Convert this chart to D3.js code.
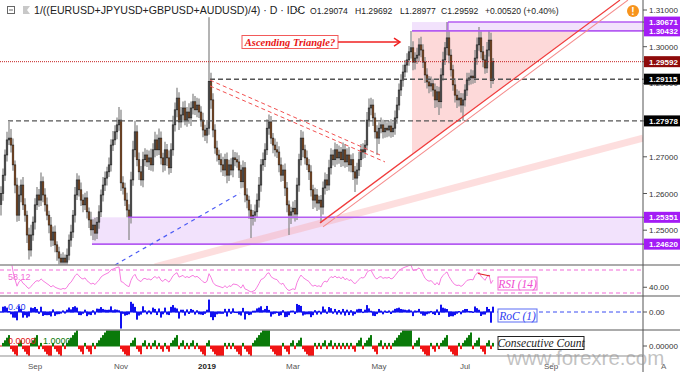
<!DOCTYPE html>
<html lang="en">
<head>
<meta charset="UTF-8">
<title>1/((EURUSD+JPYUSD+GBPUSD+AUDUSD)/4) daily</title>
<script src="https://cdn.jsdelivr.net/npm/d3@7"></script>
<style>
    body { margin: 0; background: #fff; font-family: "Liberation Sans", Arial, sans-serif; }
    svg { display: block; }
</style>
</head>
<body>
<div id="chart"></div>
<script>
// daily closes, Aug 9 2018 -> Jul 19 2019
const closes = [
    1.2600,1.2650,1.2705,1.2746,1.2751,1.2732,1.2678,1.2623,1.2541,1.2596,
    1.2623,1.2569,1.2541,1.2487,1.2446,1.2487,1.2522,1.2569,1.2596,1.2582,
    1.2632,1.2596,1.2569,1.2541,1.2514,1.2473,1.2495,1.2460,1.2441,1.2424,
    1.2413,1.2424,1.2413,1.2432,1.2473,1.2495,1.2541,1.2596,1.2637,1.2610,
    1.2582,1.2569,1.2588,1.2550,1.2528,1.2501,1.2514,1.2492,1.2522,1.2550,
    1.2596,1.2623,1.2642,1.2659,1.2678,1.2732,1.2746,1.2768,1.2787,1.2800,
    1.2629,1.2615,1.2582,1.2555,1.2536,1.2637,1.2719,1.2768,1.2692,1.2659,
    1.2637,1.2692,1.2705,1.2686,1.2697,1.2678,1.2719,1.2746,1.2719,1.2751,
    1.2697,1.2678,1.2719,1.2697,1.2670,1.2719,1.2787,1.2828,1.2860,1.2795,
    1.2814,1.2833,1.2800,1.2822,1.2806,1.2833,1.2850,1.2828,1.2841,1.2822,
    1.2800,1.2773,1.2759,1.2778,1.2905,1.2855,1.2773,1.2724,1.2705,1.2692,
    1.2678,1.2664,1.2692,1.2650,1.2678,1.2664,1.2697,1.2692,1.2686,1.2664,
    1.2632,1.2670,1.2596,1.2582,1.2555,1.2533,1.2541,1.2550,1.2582,1.2623,
    1.2678,1.2692,1.2719,1.2778,1.2795,1.2751,1.2732,1.2719,1.2713,1.2678,
    1.2650,1.2664,1.2615,1.2569,1.2541,1.2550,1.2560,1.2544,1.2623,1.2692,
    1.2751,1.2719,1.2697,1.2678,1.2659,1.2610,1.2582,1.2596,1.2574,1.2582,
    1.2563,1.2615,1.2637,1.2623,1.2670,1.2705,1.2692,1.2719,1.2697,1.2713,
    1.2692,1.2719,1.2686,1.2705,1.2678,1.2692,1.2659,1.2642,1.2664,1.2692,
    1.2719,1.2713,1.2732,1.2800,1.2833,1.2841,1.2806,1.2768,1.2751,1.2778,
    1.2787,1.2768,1.2778,1.2773,1.2784,1.2768,1.2778,1.2806,1.2841,1.2882,
    1.2909,1.2931,1.2950,1.2964,1.2986,1.2997,1.2958,1.2969,1.2977,1.3005,
    1.2991,1.2958,1.2923,1.2904,1.2893,1.2899,1.2882,1.2855,1.2877,1.2850,
    1.2923,1.2964,1.2997,1.3024,1.2977,1.2937,1.2896,1.2868,1.2855,1.2860,
    1.2841,1.2855,1.2882,1.2909,1.2915,1.2920,1.2915,1.2969,1.3005,1.3024,
    1.2986,1.2964,1.2942,1.2991,1.3018,1.29074,1.29592
];
const firstOpen = 1.2570;
// wick length above / below the body, in pips
const hiWick = [
    20,18,15,22,44,25,18,12,20,25, 15,22,18,12,20,28,15,18,22,16,
    25,14,18,20,12,22,15,18,10,14, 12,16,10,18,15,20,14,22,18,12,
    20,16,14,18,12,22,16,20,14,18, 15,22,18,14,20,16,24,18,20,36,
    28,18,14,20,16,22,25,30,18,20, 16,22,18,14,20,25,18,22,15,26,
    18,14,22,16,20,18,25,20,28,16, 22,18,20,14,24,18,22,16,20,18,
    16,20,14,22,175,24,18,16,20,14, 18,22,16,20,14,18,22,16,20,18,
    14,20,16,18,12,16,14,20,18,22, 16,20,18,24,20,16,14,18,22,16,
    20,14,18,16,12,14,18,22,20,16, 22,18,14,20,16,18,14,20,16,12,
    14,18,20,16,22,18,14,20,16,18, 14,20,16,18,22,14,18,16,20,22,
    16,18,14,22,26,20,16,14,18,16, 20,14,18,16,14,18,16,20,22,18,
    16,20,14,18,16,46,18,16,20,18, 22,16,14,18,16,20,14,18,16,14,
    18,22,16,43,20,16,14,18,16,20, 14,18,16,20,14,18,16,22,20,30,
    18,16,14,22,25,20,10
];
const loWick = [
    30,20,16,18,14,20,16,22,18,16, 20,14,18,22,26,18,16,20,14,18,
    16,20,18,14,22,18,16,20,24,18, 16,20,18,22,14,18,16,20,14,18,
    16,20,14,18,22,16,28,20,16,18, 14,18,16,20,14,18,16,14,20,16,
    22,18,16,20,63,18,16,20,18,22, 16,20,18,14,22,16,18,20,16,14,
    18,20,16,22,18,14,16,18,20,22, 16,20,14,18,16,22,18,14,20,16,
    18,20,16,22,18,24,20,16,18,14, 20,16,18,22,16,14,20,18,16,22,
    18,16,20,22,24,54,20,18,16,20, 18,16,20,14,18,16,22,18,16,20,
    18,16,22,20,54,24,18,20,16,18, 16,20,18,14,22,18,24,20,22,18,
    43,20,18,16,14,18,16,20,18,16, 20,18,16,14,18,20,22,38,18,16,
    20,18,16,14,18,20,22,18,46,16, 14,18,16,20,18,16,14,18,16,14,
    16,18,14,20,16,18,22,20,16,18, 20,16,22,18,20,16,18,22,20,36,
    18,16,14,20,22,18,16,20,22,18, 20,43,18,16,14,18,16,14,18,16,
    18,20,16,14,18,20,9
];

const monthLabels = ["Sep", "Nov", "2019", "Mar", "May", "Jul", "Sep"];
const monthIdx = [17, 60, 103, 146, 189, 232, 275];
const priceTicks = [1.31, 1.30, 1.29, 1.27, 1.26, 1.25];
const levelPrices = [1.30671, 1.30432, 1.29592, 1.29115, 1.27978, 1.25351, 1.24620];
const levelColors = ["#a31cf5", "#a31cf5", "#8e0a0a", "#000", "#000", "#a31cf5", "#a31cf5"];

// drawings, as [index, price] points
const triTop = [1.30432, 1.30671];
const zoneLow = [1.24620, 1.25351];
const riseLine = [[159.5, 1.2520], [309.5, 1.3127]];
const riseLineLight = [[161, 1.2509], [313.5, 1.3127]];
const triangle = [[205.5, 1.30432], [288.5, 1.30432], [205.5, 1.2708]];
const fallLines = [[[104.5, 1.2909], [189.5, 1.2705]], [[104.5, 1.2893], [192, 1.2686]]];
const blueLine = [[57, 1.2405], [119.5, 1.2601]];
const pinkBand = [[77, 1.2400], [321, 1.2751]];

const W = 680, H = 372, axisX = 643;
const mainTop = 0, mainBot = 265, rsiBot = 296, rocBot = 330, cntBot = 356;

const svg = d3.select("#chart").append("svg").attr("width", W).attr("height", H);

const x = d3.scaleLinear().domain([0, 1]).range([1, 3]);
const y = d3.scaleLinear().domain([1.24, 1.31]).range([266.9, 10]);
const yR = d3.scaleLinear().domain([30, 70]).range([293, 270]);
const yC = d3.scaleLinear().domain([-1, 1]).range([324, 300]);
const yN = d3.scaleLinear().domain([0, 1]).range([346, 343.4]);

const defs = svg.append("defs");
[["cMain", mainTop, mainBot], ["cRsi", mainBot, rsiBot], ["cRoc", rsiBot, rocBot], ["cCnt", rocBot, cntBot]]
    .forEach(([id, t, b]) => defs.append("clipPath").attr("id", id)
        .append("rect").attr("x", 0).attr("y", t).attr("width", axisX).attr("height", b - t));

const candles = closes.map((c, i) => {
    const o = i === 0 ? firstOpen : closes[i - 1];
    return { i, o, c, h: Math.max(o, c) + hiWick[i] / 1e4, l: Math.min(o, c) - loWick[i] / 1e4 };
});
const lastI = closes.length - 1;
const line = d3.line().x(d => x(d[0])).y(d => y(d[1]));

// ---------- main pane ----------
const main = svg.append("g").attr("clip-path", "url(#cMain)");

main.append("rect").attr("x", x(45.5)).attr("y", y(zoneLow[1]))
    .attr("width", axisX - x(45.5)).attr("height", y(zoneLow[0]) - y(zoneLow[1]))
    .attr("fill", "#f2e2fc");
main.append("rect").attr("x", x(205.5)).attr("y", y(triTop[1]))
    .attr("width", axisX - x(205.5)).attr("height", y(triTop[0]) - y(triTop[1]))
    .attr("fill", "#f2e2fc");
main.append("path").attr("d", line(triangle) + "Z").attr("fill", "#fdd9d9");
main.append("path").attr("d", line(pinkBand)).attr("stroke", "#f9a0a0")
    .attr("stroke-opacity", 0.35).attr("stroke-width", 7).attr("fill", "none");

// candles
const cg = main.append("g");
cg.selectAll("line").data(candles).join("line")
    .attr("x1", d => x(d.i)).attr("x2", d => x(d.i))
    .attr("y1", d => y(d.h)).attr("y2", d => y(d.l))
    .attr("stroke", "#8c8c8c").attr("stroke-width", 1.3);
cg.selectAll("rect").data(candles).join("rect")
    .attr("x", d => x(d.i) - 0.8).attr("width", 1.6)
    .attr("y", d => y(Math.max(d.o, d.c)))
    .attr("height", d => Math.max(1, Math.abs(y(d.o) - y(d.c))))
    .attr("fill", d => d.c >= d.o ? "#6a6a6a" : "#b5550e")
    .attr("stroke", "#1c1c1c").attr("stroke-width", 0.6);

// levels
main.append("line").attr("x1", x(45.5)).attr("x2", axisX).attr("y1", y(zoneLow[0])).attr("y2", y(zoneLow[0]))
    .attr("stroke", "#b45cf2").attr("stroke-width", 1.6);
main.append("line").attr("x1", x(63.5)).attr("x2", axisX).attr("y1", y(zoneLow[1])).attr("y2", y(zoneLow[1]))
    .attr("stroke", "#b45cf2").attr("stroke-width", 1.6);
main.append("line").attr("x1", x(205.5)).attr("x2", axisX).attr("y1", y(triTop[0])).attr("y2", y(triTop[0]))
    .attr("stroke", "#b45cf2").attr("stroke-width", 1.6);
main.append("line").attr("x1", x(223.5)).attr("x2", axisX).attr("y1", y(triTop[1])).attr("y2", y(triTop[1]))
    .attr("stroke", "#b45cf2").attr("stroke-width", 1.6);
main.append("line").attr("x1", x(223.5)).attr("x2", x(223.5)).attr("y1", y(triTop[1])).attr("y2", y(triTop[0]))
    .attr("stroke", "#b45cf2").attr("stroke-width", 1.2);

main.append("line").attr("x1", x(104.5)).attr("x2", axisX).attr("y1", y(1.29115)).attr("y2", y(1.29115))
    .attr("stroke", "#555").attr("stroke-width", 1.4).attr("stroke-dasharray", "5,3");
main.append("line").attr("x1", x(3.5)).attr("x2", axisX).attr("y1", y(1.27978)).attr("y2", y(1.27978))
    .attr("stroke", "#555").attr("stroke-width", 1.4).attr("stroke-dasharray", "5,3");
main.append("line").attr("x1", 0).attr("x2", axisX).attr("y1", y(1.29592)).attr("y2", y(1.29592))
    .attr("stroke", "#c62020").attr("stroke-width", 1).attr("stroke-dasharray", "1,1");

fallLines.forEach(l => main.append("path").attr("d", line(l)).attr("fill", "none")
    .attr("stroke", "#f25050").attr("stroke-width", 1).attr("stroke-dasharray", "4,3"));
main.append("path").attr("d", line(blueLine)).attr("fill", "none")
    .attr("stroke", "#4d5cf5").attr("stroke-width", 1.2).attr("stroke-dasharray", "4,4");
main.append("path").attr("d", line(riseLine)).attr("fill", "none")
    .attr("stroke", "#f03c3c").attr("stroke-width", 1.3);
main.append("path").attr("d", line(riseLineLight)).attr("fill", "none")
    .attr("stroke", "#f58c8c").attr("stroke-width", 1.1);

// annotation
const ax0 = x(120.5), ax1 = x(168.5), ay = y(1.30128);
svg.append("rect").attr("x", ax0).attr("y", ay - 6.5).attr("width", ax1 - ax0).attr("height", 13)
    .attr("fill", "#fff").attr("stroke", "#f25a5a").attr("stroke-width", 1);
svg.append("text").attr("x", (ax0 + ax1) / 2).attr("y", ay + 3.8).attr("text-anchor", "middle")
    .attr("font-family", "'Liberation Serif', 'DejaVu Serif', serif").attr("font-style", "italic")
    .attr("font-weight", "bold").attr("font-size", 10.5).attr("fill", "#e81414").text("Ascending Triangle?");
const arrowEnd = x(199.5);
svg.append("line").attr("x1", ax1).attr("x2", arrowEnd).attr("y1", ay).attr("y2", ay)
    .attr("stroke", "#f02020").attr("stroke-width", 1.5);
svg.append("path").attr("d", `M${arrowEnd - 6},${ay - 4}L${arrowEnd},${ay}L${arrowEnd - 6},${ay + 4}`)
    .attr("fill", "none").attr("stroke", "#f02020").attr("stroke-width", 1.5);

// ---------- indicators ----------
const rsi = [null];
let ag = 0, al = 0;
for (let i = 1; i < closes.length; i++) {
    const ch = closes[i] - closes[i - 1];
    const n = Math.min(i, 14);
    ag += (Math.max(ch, 0) - ag) / n;
    al += (Math.max(-ch, 0) - al) / n;
    rsi.push(al === 0 ? 100 : 100 - 100 / (1 + ag / al));
}
const roc = closes.map((c, i) => i === 0 ? 0 : (c - closes[i - 1]) / closes[i - 1] * 100);
const cnt = [0];
for (let i = 1; i < closes.length; i++) {
    const ch = closes[i] - closes[i - 1], p = cnt[i - 1];
    cnt.push(ch > 0 ? (p > 0 ? p + 1 : 1) : ch < 0 ? (p < 0 ? p - 1 : -1) : 0);
}

// RSI pane
const rp = svg.append("g").attr("clip-path", "url(#cRsi)");
[70, 30].forEach(v => rp.append("line").attr("x1", 0).attr("x2", axisX).attr("y1", yR(v)).attr("y2", yR(v))
    .attr("stroke", "#f26ad8").attr("stroke-width", 1.2).attr("stroke-dasharray", "4,3"));
rp.append("path").datum(rsi.map((v, i) => [i, v]).filter(d => d[0] >= 2))
    .attr("d", d3.line().x(d => x(d[0])).y(d => yR(d[1])))
    .attr("fill", "none").attr("stroke", "#f77ee0").attr("stroke-width", 1);
rp.append("line").attr("x1", x(238.5)).attr("x2", x(244.5)).attr("y1", 273.5).attr("y2", 276)
    .attr("stroke", "#e02020").attr("stroke-width", 1.2);
rp.append("text").attr("x", 8).attr("y", 280).attr("font-size", 9).attr("fill", "#f26ad8").text("58.12");

// RoC pane
const op = svg.append("g").attr("clip-path", "url(#cRoc)");
op.append("line").attr("x1", 0).attr("x2", axisX).attr("y1", yC(0)).attr("y2", yC(0))
    .attr("stroke", "#3a4cf2").attr("stroke-width", 1).attr("stroke-dasharray", "4,3");
op.selectAll("rect").data(roc).join("rect")
    .attr("x", (d, i) => x(i) - 1).attr("width", 2)
    .attr("y", d => Math.min(yC(d), yC(0)) - 0.5)
    .attr("height", d => Math.abs(yC(d) - yC(0)) + 1)
    .attr("fill", "#1010f0");
op.append("text").attr("x", 8).attr("y", 310).attr("font-size", 9).attr("fill", "#2a3cf0").text("0.40");

// Consecutive count pane
const np = svg.append("g").attr("clip-path", "url(#cCnt)");
np.selectAll("rect").data(cnt).join("rect")
    .attr("x", (d, i) => x(i) - 1).attr("width", 2)
    .attr("y", d => Math.min(yN(d), yN(0)) - 0.5)
    .attr("height", d => Math.abs(yN(d) - yN(0)) + 1)
    .attr("fill", d => d > 0 ? "#0a7a0a" : "#f01414");
np.append("text").attr("x", 8).attr("y", 344).attr("font-size", 9).attr("fill", "#e01414").text("0.0000");
np.append("text").attr("x", 43).attr("y", 344).attr("font-size", 9).attr("fill", "#0a7a0a").text("1.0000");

// indicator name boxes
const bx = x(lastI) + 5;
function nameBox(label, cy, w, stroke, fill) {
    svg.append("rect").attr("x", bx).attr("y", cy - 6.5).attr("width", w).attr("height", 13)
        .attr("fill", "#fff").attr("stroke", stroke).attr("stroke-width", 1);
    svg.append("text").attr("x", bx + w / 2).attr("y", cy + 4).attr("text-anchor", "middle")
        .attr("font-family", "'Liberation Serif', 'DejaVu Serif', serif").attr("font-style", "italic")
        .attr("font-size", 11.5).attr("fill", fill).text(label);
}
nameBox("RSI (14)", 283.5, 39, "#f26ad8", "#f04cd0");
nameBox("RoC (1)", 315.5, 39, "#5a6cf5", "#3040f0");
nameBox("Consecutive Count", 343, 86, "#222", "#222");

// ---------- frame ----------
[mainBot, rsiBot, rocBot].forEach(v => svg.append("line").attr("x1", 0).attr("x2", W)
    .attr("y1", v).attr("y2", v).attr("stroke", "#8f8f8f").attr("stroke-width", 1.6));
svg.append("line").attr("x1", 0).attr("x2", axisX).attr("y1", cntBot).attr("y2", cntBot)
    .attr("stroke", "#8f8f8f").attr("stroke-width", 1.2);
svg.append("line").attr("x1", axisX).attr("x2", axisX).attr("y1", 0).attr("y2", H)
    .attr("stroke", "#555").attr("stroke-width", 1);

// right axis
function axisLabel(yy, txt, bg) {
    svg.append("line").attr("x1", axisX).attr("x2", axisX + 4).attr("y1", yy).attr("y2", yy)
        .attr("stroke", "#555").attr("stroke-width", 1);
    if (bg) svg.append("rect").attr("x", axisX + 1).attr("y", yy - 5.5).attr("width", W - axisX).attr("height", 11).attr("fill", bg);
    svg.append("text").attr("x", axisX + 6).attr("y", yy + 3).attr("font-size", 8)
        .attr("font-weight", bg ? "bold" : "normal").attr("fill", bg ? "#fff" : "#333").text(txt);
}
priceTicks.forEach(p => axisLabel(y(p), p.toFixed(5)));
levelPrices.forEach((p, k) => axisLabel(y(p), p.toFixed(5), levelColors[k]));
axisLabel(yR(40), "40.00");
axisLabel(yC(0), "0.00");
axisLabel(yN(0), "0.00000");

// bottom axis
svg.append("g").selectAll("text").data(monthLabels).join("text")
    .attr("x", (d, k) => x(monthIdx[k])).attr("y", 369).attr("text-anchor", "middle")
    .attr("font-size", 8).attr("font-weight", d => d === "2019" ? "bold" : "normal")
    .attr("fill", d => d === "2019" ? "#222" : "#555").text(d => d);
svg.append("text").attr("x", 661).attr("y", 369).attr("font-size", 8).attr("fill", "#666").text("A");

svg.append("text").attr("x", 507).attr("y", 365).attr("font-size", 20.5)
    .attr("fill", "#999").attr("fill-opacity", 0.6).text("www.forexre.com");

// ---------- header ----------
svg.append("rect").attr("x", 7.5).attr("y", 6.5).attr("width", 7).attr("height", 7)
    .attr("fill", "none").attr("stroke", "#666");
svg.append("line").attr("x1", 9).attr("x2", 13).attr("y1", 10).attr("y2", 10).attr("stroke", "#666");
svg.append("path").attr("d", "M23,6h7l-3,4l3,4h-7z").attr("fill", "#c8c8c8");
svg.append("text").attr("x", 34).attr("y", 14).attr("font-size", 10.6).attr("fill", "#222")
    .text("1/((EURUSD+JPYUSD+GBPUSD+AUDUSD)/4) · D · IDC");
svg.append("path").attr("d", "M295,9l2.5,2.5l2.5,-2.5").attr("fill", "none").attr("stroke", "#444");
const ohlc = [["O1.29074", 310], ["H1.29692", 355], ["L1.28977", 400], ["C1.29592", 441], ["+0.00520 (+0.40%)", 485]];
svg.append("g").selectAll("text").data(ohlc).join("text")
    .attr("x", d => d[1]).attr("y", 14).attr("font-size", 8.6).attr("fill", "#222").text(d => d[0]);
svg.append("circle").attr("cx", 633).attr("cy", 11).attr("r", 6).attr("fill", "#f7941d");
svg.append("text").attr("x", 633).attr("y", 14.5).attr("text-anchor", "middle").attr("font-size", 10)
    .attr("font-weight", "bold").attr("fill", "#fff").text("!");
</script>
</body>
</html>
